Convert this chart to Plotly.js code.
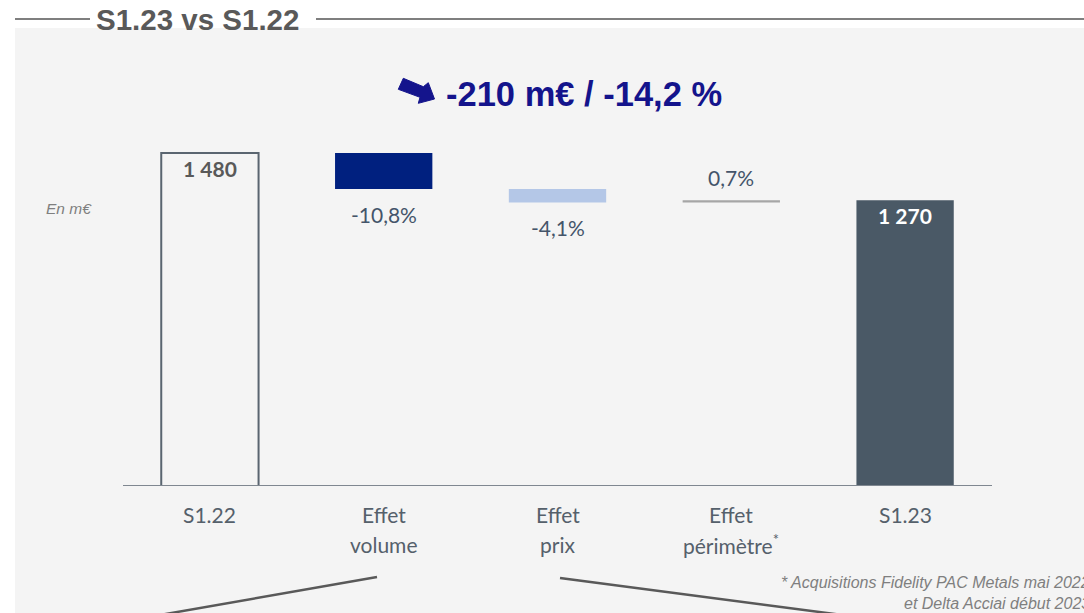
<!DOCTYPE html>
<html><head><meta charset="utf-8">
<script src="https://cdn.plot.ly/plotly-3.0.1.min.js"></script>
<style>html,body{margin:0;padding:0;background:#fff;}#chart{width:1084px;height:613px;}</style>
</head><body><div id="chart"></div>
<script>
// ---- data ----
const categories = ['S1.22', 'Effet<br>volume', 'Effet<br>prix', 'Effet<br>périmètre<sup>*</sup>', 'S1.23'];
const measures   = ['total', 'relative', 'relative', 'relative', 'total'];
const values     = [1480, -160, -60, 10, 1270];
const pctLabels  = ['', '-10,8%', '-4,1%', '0,7%', ''];
const barColors  = ['#f4f4f4', '#00207f', '#b4c7e7', '#a6a6a6', '#4a5966'];
const headerText = 'S1.23 vs S1.22';
const mainTitle  = '-210 m€ / -14,2 %';
const unitText   = 'En m€';
const footnote   = ['* Acquisitions Fidelity PAC Metals mai 2022', 'et Delta Acciai début 2023'];

// ---- layout geometry ----
const W = 1084, H = 613, L = 123, R = 92, T = 120, B = 127;
const pw = W - L - R, ph = H - T - B;
const yMax = 1626.7;
const px = x => (x - L) / pw;
const py = y => (H - B - y) / ph;

// bases & heights
const bases = [], heights = [];
let run = 0;
values.forEach((v, i) => {
  if (measures[i] === 'total') { bases.push(0); heights.push(v); run = v; }
  else { bases.push(run); heights.push(v); run += v; }
});
const fmt = v => String(v).replace(/\B(?=(\d{3})+(?!\d))/g, ' ');

const trace = {
  type: 'bar', x: [0,1,2,3,4], y: heights, base: bases, width: 0.56,
  marker: {color: barColors, line: {color: ['#5a6570','rgba(0,0,0,0)','rgba(0,0,0,0)','rgba(0,0,0,0)','rgba(0,0,0,0)'], width: [2,0,0,0,0]}},
  hoverinfo: 'skip'
};

const annotations = [];
const lblFont = {family: 'Lato, sans-serif', size: 21, color: '#55606b'};
// category labels, one annotation per line
categories.forEach((c, i) => {
  c.split('<br>').forEach((line, j) => {
    annotations.push({x: i, y: 0, xref: 'x', yref: 'y', text: line, showarrow: false,
      yanchor: 'middle', yshift: -28 - 30 * j, font: lblFont});
  });
});
// value labels
values.forEach((v, i) => {
  if (measures[i] === 'total') {
    annotations.push({x: i, y: v, xref: 'x', yref: 'y', text: '<b>' + fmt(v) + '</b>', showarrow: false,
      yanchor: 'middle', yshift: -15, font: {family: 'Lato, sans-serif', size: 21, color: i === 0 ? '#595959' : '#ffffff'}});
  } else {
    const top = Math.max(bases[i], bases[i] + v), bot = Math.min(bases[i], bases[i] + v);
    annotations.push({x: i, y: v < 0 ? bot : top, xref: 'x', yref: 'y', text: pctLabels[i], showarrow: false,
      yanchor: 'middle', yshift: v < 0 ? -25 : 23, font: {family: 'Lato, sans-serif', size: 21, color: '#44546a'}});
  }
});
// header
annotations.push({x: px(94), y: py(19), xref: 'paper', yref: 'paper', xanchor: 'left', yanchor: 'middle',
  text: '<b>' + headerText + '</b>', showarrow: false, font: {family: 'Liberation Sans, Arial, sans-serif', size: 29.5, color: '#595959'}});
// main title
annotations.push({x: px(584), y: py(94), xref: 'paper', yref: 'paper', xanchor: 'center', yanchor: 'middle',
  text: '<b>' + mainTitle + '</b>', showarrow: false, font: {family: 'Liberation Sans, Arial, sans-serif', size: 34.5, color: '#14148c'}});
// unit
annotations.push({x: px(44), y: py(208), xref: 'paper', yref: 'paper', xanchor: 'left', yanchor: 'middle',
  text: '<i>' + unitText + '</i>', showarrow: false, font: {family: 'Liberation Sans, Arial, sans-serif', size: 15.5, color: '#7f7f7f'}});
// footnote
footnote.forEach((t, j) => {
  annotations.push({x: px(1092), y: py(582 + 21 * j), xref: 'paper', yref: 'paper', xanchor: 'right', yanchor: 'middle',
    text: '<i>' + t + '</i>', showarrow: false, font: {family: 'Liberation Sans, Arial, sans-serif', size: 16, color: '#7f7f7f'}});
});

// arrow polygon (pixel coords -> paper)
const arrowPts = [[403.3,78.3],[423.3,86.7],[428.3,82.7],[434.5,99],[418.3,103.3],[420,97.3],[398.3,89.3]];
const arrowPath = 'M' + arrowPts.map(p => px(p[0]) + ',' + py(p[1])).join('L') + 'Z';

const shapes = [
  {type: 'rect', xref: 'paper', yref: 'paper', x0: px(15), x1: px(1090), y0: py(28), y1: py(620), fillcolor: '#f4f4f4', line: {width: 0}, layer: 'below'},
  {type: 'line', xref: 'paper', yref: 'paper', x0: px(15), x1: px(90), y0: py(19), y1: py(19), line: {color: '#7f7f7f', width: 2}},
  {type: 'line', xref: 'paper', yref: 'paper', x0: px(316), x1: px(1090), y0: py(19), y1: py(19), line: {color: '#7f7f7f', width: 2}},
  {type: 'line', xref: 'paper', yref: 'y', x0: 0, x1: 1, y0: 0, y1: 0, line: {color: '#7f8790', width: 2}},
  {type: 'line', xref: 'paper', yref: 'paper', x0: px(377), x1: px(160), y0: py(577), y1: py(615), line: {color: '#595959', width: 2.5}},
  {type: 'line', xref: 'paper', yref: 'paper', x0: px(560), x1: px(850), y0: py(578), y1: py(616), line: {color: '#595959', width: 2.5}},
  {type: 'path', xref: 'paper', yref: 'paper', path: arrowPath, fillcolor: '#14148c', line: {color: '#14148c', width: 1}}
];

const layout = {
  width: W, height: H, margin: {l: L, r: R, t: T, b: B, pad: 0},
  paper_bgcolor: '#ffffff', plot_bgcolor: 'rgba(0,0,0,0)', showlegend: false,
  xaxis: {range: [-0.5, 4.5], showticklabels: false, showgrid: false, zeroline: false, ticks: '', fixedrange: true},
  yaxis: {range: [0, yMax], visible: false, showgrid: false, zeroline: false, fixedrange: true},
  annotations: annotations, shapes: shapes
};
Plotly.newPlot('chart', [trace], layout, {displayModeBar: false, staticPlot: true});
</script></body></html>
